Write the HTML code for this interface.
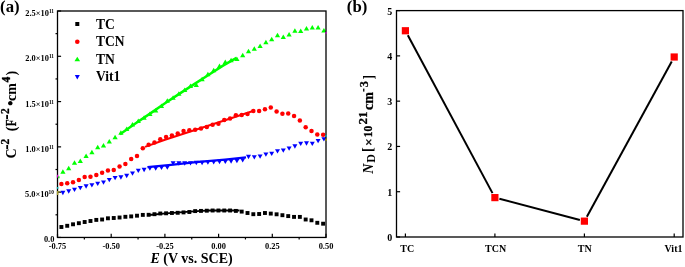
<!DOCTYPE html><html><head><meta charset="utf-8"><style>
html,body{margin:0;padding:0;background:#fff;}
body{width:685px;height:267px;overflow:hidden;position:relative;}
svg{position:absolute;left:0;top:0;will-change:transform;}
text{font-family:"Liberation Serif", serif;font-weight:bold;fill:#000;}
</style></head><body>
<svg width="685" height="267" viewBox="0 0 685 267">
<defs><clipPath id="ca"><rect x="57.50" y="11.00" width="268.50" height="226.45"/></clipPath></defs>
<g clip-path="url(#ca)">
<polyline points="120.00,134.30 135.00,123.80 150.00,113.60 165.00,103.30 180.00,93.40 195.00,83.60 210.00,74.00 223.00,65.60 236.50,57.80" fill="none" stroke="#00ff00" stroke-width="2.5"/>
<polyline points="145.00,146.90 165.00,139.70 225.00,120.20 253.00,111.00" fill="none" stroke="#ff0000" stroke-width="2.0"/>
<polyline points="147.50,167.20 171.00,164.80 196.00,162.10 225.00,159.60 246.00,157.40" fill="none" stroke="#0000ff" stroke-width="2.2"/>
<polyline points="149.00,215.00 166.00,213.40 183.00,212.20 201.00,210.90 210.00,210.50 239.50,210.50" fill="none" stroke="#000000" stroke-width="1.8"/>
<rect x="59.45" y="225.05" width="3.90" height="3.90" fill="#000000"/>
<rect x="65.27" y="223.85" width="3.90" height="3.90" fill="#000000"/>
<rect x="71.08" y="222.35" width="3.90" height="3.90" fill="#000000"/>
<rect x="76.90" y="221.25" width="3.90" height="3.90" fill="#000000"/>
<rect x="82.71" y="220.05" width="3.90" height="3.90" fill="#000000"/>
<rect x="88.53" y="219.05" width="3.90" height="3.90" fill="#000000"/>
<rect x="94.35" y="217.95" width="3.90" height="3.90" fill="#000000"/>
<rect x="100.16" y="217.55" width="3.90" height="3.90" fill="#000000"/>
<rect x="105.98" y="216.35" width="3.90" height="3.90" fill="#000000"/>
<rect x="111.79" y="216.05" width="3.90" height="3.90" fill="#000000"/>
<rect x="117.61" y="215.55" width="3.90" height="3.90" fill="#000000"/>
<rect x="123.43" y="214.85" width="3.90" height="3.90" fill="#000000"/>
<rect x="129.24" y="214.45" width="3.90" height="3.90" fill="#000000"/>
<rect x="135.06" y="213.75" width="3.90" height="3.90" fill="#000000"/>
<rect x="140.87" y="212.95" width="3.90" height="3.90" fill="#000000"/>
<rect x="146.69" y="212.85" width="3.90" height="3.90" fill="#000000"/>
<rect x="152.51" y="212.25" width="3.90" height="3.90" fill="#000000"/>
<rect x="158.32" y="211.55" width="3.90" height="3.90" fill="#000000"/>
<rect x="164.14" y="211.35" width="3.90" height="3.90" fill="#000000"/>
<rect x="169.95" y="211.05" width="3.90" height="3.90" fill="#000000"/>
<rect x="175.77" y="210.85" width="3.90" height="3.90" fill="#000000"/>
<rect x="181.59" y="210.45" width="3.90" height="3.90" fill="#000000"/>
<rect x="187.40" y="210.05" width="3.90" height="3.90" fill="#000000"/>
<rect x="193.22" y="209.15" width="3.90" height="3.90" fill="#000000"/>
<rect x="199.03" y="208.95" width="3.90" height="3.90" fill="#000000"/>
<rect x="204.85" y="208.75" width="3.90" height="3.90" fill="#000000"/>
<rect x="210.67" y="208.55" width="3.90" height="3.90" fill="#000000"/>
<rect x="216.48" y="208.55" width="3.90" height="3.90" fill="#000000"/>
<rect x="222.30" y="208.55" width="3.90" height="3.90" fill="#000000"/>
<rect x="228.11" y="208.55" width="3.90" height="3.90" fill="#000000"/>
<rect x="233.93" y="208.95" width="3.90" height="3.90" fill="#000000"/>
<rect x="239.75" y="209.65" width="3.90" height="3.90" fill="#000000"/>
<rect x="245.56" y="211.05" width="3.90" height="3.90" fill="#000000"/>
<rect x="251.38" y="212.25" width="3.90" height="3.90" fill="#000000"/>
<rect x="257.19" y="212.05" width="3.90" height="3.90" fill="#000000"/>
<rect x="263.01" y="211.05" width="3.90" height="3.90" fill="#000000"/>
<rect x="268.83" y="211.65" width="3.90" height="3.90" fill="#000000"/>
<rect x="274.64" y="212.35" width="3.90" height="3.90" fill="#000000"/>
<rect x="280.46" y="213.25" width="3.90" height="3.90" fill="#000000"/>
<rect x="286.27" y="214.15" width="3.90" height="3.90" fill="#000000"/>
<rect x="292.09" y="214.95" width="3.90" height="3.90" fill="#000000"/>
<rect x="297.91" y="214.95" width="3.90" height="3.90" fill="#000000"/>
<rect x="303.72" y="217.55" width="3.90" height="3.90" fill="#000000"/>
<rect x="309.54" y="218.35" width="3.90" height="3.90" fill="#000000"/>
<rect x="315.35" y="220.85" width="3.90" height="3.90" fill="#000000"/>
<rect x="321.17" y="221.75" width="3.90" height="3.90" fill="#000000"/>
<polygon points="60.40,190.85 65.40,190.85 62.90,195.15" fill="#0000ff"/>
<polygon points="66.20,189.35 71.20,189.35 68.70,193.65" fill="#0000ff"/>
<polygon points="72.00,187.65 77.00,187.65 74.50,191.95" fill="#0000ff"/>
<polygon points="77.80,185.95 82.80,185.95 80.30,190.25" fill="#0000ff"/>
<polygon points="83.60,184.35 88.60,184.35 86.10,188.65" fill="#0000ff"/>
<polygon points="89.40,183.15 94.40,183.15 91.90,187.45" fill="#0000ff"/>
<polygon points="95.20,181.65 100.20,181.65 97.70,185.95" fill="#0000ff"/>
<polygon points="101.00,180.55 106.00,180.55 103.50,184.85" fill="#0000ff"/>
<polygon points="106.80,178.05 111.80,178.05 109.30,182.35" fill="#0000ff"/>
<polygon points="112.60,176.05 117.60,176.05 115.10,180.35" fill="#0000ff"/>
<polygon points="118.40,175.35 123.40,175.35 120.90,179.65" fill="#0000ff"/>
<polygon points="124.20,173.85 129.20,173.85 126.70,178.15" fill="#0000ff"/>
<polygon points="130.00,171.55 135.00,171.55 132.50,175.85" fill="#0000ff"/>
<polygon points="135.80,168.75 140.80,168.75 138.30,173.05" fill="#0000ff"/>
<polygon points="141.60,167.85 146.60,167.85 144.10,172.15" fill="#0000ff"/>
<polygon points="147.40,166.45 152.40,166.45 149.90,170.75" fill="#0000ff"/>
<polygon points="153.20,166.45 158.20,166.45 155.70,170.75" fill="#0000ff"/>
<polygon points="159.00,165.65 164.00,165.65 161.50,169.95" fill="#0000ff"/>
<polygon points="164.80,165.45 169.80,165.45 167.30,169.75" fill="#0000ff"/>
<polygon points="170.60,161.15 175.60,161.15 173.10,165.45" fill="#0000ff"/>
<polygon points="176.40,161.35 181.40,161.35 178.90,165.65" fill="#0000ff"/>
<polygon points="182.20,161.35 187.20,161.35 184.70,165.65" fill="#0000ff"/>
<polygon points="188.00,161.25 193.00,161.25 190.50,165.55" fill="#0000ff"/>
<polygon points="193.80,160.85 198.80,160.85 196.30,165.15" fill="#0000ff"/>
<polygon points="199.60,160.85 204.60,160.85 202.10,165.15" fill="#0000ff"/>
<polygon points="205.40,160.45 210.40,160.45 207.90,164.75" fill="#0000ff"/>
<polygon points="211.20,160.15 216.20,160.15 213.70,164.45" fill="#0000ff"/>
<polygon points="217.00,159.85 222.00,159.85 219.50,164.15" fill="#0000ff"/>
<polygon points="222.80,159.65 227.80,159.65 225.30,163.95" fill="#0000ff"/>
<polygon points="228.60,159.35 233.60,159.35 231.10,163.65" fill="#0000ff"/>
<polygon points="234.40,159.05 239.40,159.05 236.90,163.35" fill="#0000ff"/>
<polygon points="240.20,158.15 245.20,158.15 242.70,162.45" fill="#0000ff"/>
<polygon points="246.00,154.85 251.00,154.85 248.50,159.15" fill="#0000ff"/>
<polygon points="251.80,155.25 256.80,155.25 254.30,159.55" fill="#0000ff"/>
<polygon points="257.60,154.45 262.60,154.45 260.10,158.75" fill="#0000ff"/>
<polygon points="263.40,152.55 268.40,152.55 265.90,156.85" fill="#0000ff"/>
<polygon points="269.20,151.65 274.20,151.65 271.70,155.95" fill="#0000ff"/>
<polygon points="275.00,149.25 280.00,149.25 277.50,153.55" fill="#0000ff"/>
<polygon points="280.80,148.55 285.80,148.55 283.30,152.85" fill="#0000ff"/>
<polygon points="286.60,146.55 291.60,146.55 289.10,150.85" fill="#0000ff"/>
<polygon points="292.40,144.35 297.40,144.35 294.90,148.65" fill="#0000ff"/>
<polygon points="298.20,141.75 303.20,141.75 300.70,146.05" fill="#0000ff"/>
<polygon points="304.00,141.35 309.00,141.35 306.50,145.65" fill="#0000ff"/>
<polygon points="309.80,141.75 314.80,141.75 312.30,146.05" fill="#0000ff"/>
<polygon points="315.60,139.05 320.60,139.05 318.10,143.35" fill="#0000ff"/>
<polygon points="321.40,137.25 326.40,137.25 323.90,141.55" fill="#0000ff"/>
<circle cx="61.40" cy="184.00" r="2.25" fill="#ff0000"/>
<circle cx="67.22" cy="183.20" r="2.25" fill="#ff0000"/>
<circle cx="73.03" cy="182.20" r="2.25" fill="#ff0000"/>
<circle cx="78.85" cy="180.00" r="2.25" fill="#ff0000"/>
<circle cx="84.66" cy="176.90" r="2.25" fill="#ff0000"/>
<circle cx="90.48" cy="176.70" r="2.25" fill="#ff0000"/>
<circle cx="96.30" cy="175.10" r="2.25" fill="#ff0000"/>
<circle cx="102.11" cy="172.70" r="2.25" fill="#ff0000"/>
<circle cx="107.93" cy="170.60" r="2.25" fill="#ff0000"/>
<circle cx="113.74" cy="169.90" r="2.25" fill="#ff0000"/>
<circle cx="119.56" cy="166.50" r="2.25" fill="#ff0000"/>
<circle cx="125.38" cy="163.90" r="2.25" fill="#ff0000"/>
<circle cx="131.19" cy="159.00" r="2.25" fill="#ff0000"/>
<circle cx="137.01" cy="156.10" r="2.25" fill="#ff0000"/>
<circle cx="142.82" cy="148.30" r="2.25" fill="#ff0000"/>
<circle cx="148.64" cy="144.70" r="2.25" fill="#ff0000"/>
<circle cx="154.46" cy="142.50" r="2.25" fill="#ff0000"/>
<circle cx="160.27" cy="139.20" r="2.25" fill="#ff0000"/>
<circle cx="166.09" cy="137.00" r="2.25" fill="#ff0000"/>
<circle cx="171.90" cy="135.60" r="2.25" fill="#ff0000"/>
<circle cx="177.72" cy="133.50" r="2.25" fill="#ff0000"/>
<circle cx="183.54" cy="131.00" r="2.25" fill="#ff0000"/>
<circle cx="189.35" cy="130.20" r="2.25" fill="#ff0000"/>
<circle cx="195.17" cy="129.80" r="2.25" fill="#ff0000"/>
<circle cx="200.98" cy="128.50" r="2.25" fill="#ff0000"/>
<circle cx="206.80" cy="127.10" r="2.25" fill="#ff0000"/>
<circle cx="212.62" cy="124.80" r="2.25" fill="#ff0000"/>
<circle cx="218.43" cy="123.80" r="2.25" fill="#ff0000"/>
<circle cx="224.25" cy="120.00" r="2.25" fill="#ff0000"/>
<circle cx="230.06" cy="118.60" r="2.25" fill="#ff0000"/>
<circle cx="235.88" cy="115.20" r="2.25" fill="#ff0000"/>
<circle cx="241.70" cy="114.90" r="2.25" fill="#ff0000"/>
<circle cx="247.51" cy="113.90" r="2.25" fill="#ff0000"/>
<circle cx="253.33" cy="111.00" r="2.25" fill="#ff0000"/>
<circle cx="259.14" cy="111.00" r="2.25" fill="#ff0000"/>
<circle cx="264.96" cy="109.30" r="2.25" fill="#ff0000"/>
<circle cx="270.78" cy="107.60" r="2.25" fill="#ff0000"/>
<circle cx="276.59" cy="111.40" r="2.25" fill="#ff0000"/>
<circle cx="282.41" cy="113.80" r="2.25" fill="#ff0000"/>
<circle cx="288.22" cy="113.50" r="2.25" fill="#ff0000"/>
<circle cx="294.04" cy="116.00" r="2.25" fill="#ff0000"/>
<circle cx="299.86" cy="120.60" r="2.25" fill="#ff0000"/>
<circle cx="305.67" cy="127.20" r="2.25" fill="#ff0000"/>
<circle cx="311.49" cy="131.00" r="2.25" fill="#ff0000"/>
<circle cx="317.30" cy="134.40" r="2.25" fill="#ff0000"/>
<circle cx="323.12" cy="134.70" r="2.25" fill="#ff0000"/>
<polygon points="62.90,169.35 65.50,173.85 60.30,173.85" fill="#00ff00"/>
<polygon points="68.70,165.65 71.30,170.15 66.10,170.15" fill="#00ff00"/>
<polygon points="74.50,160.15 77.10,164.65 71.90,164.65" fill="#00ff00"/>
<polygon points="80.30,158.45 82.90,162.95 77.70,162.95" fill="#00ff00"/>
<polygon points="86.10,153.55 88.70,158.05 83.50,158.05" fill="#00ff00"/>
<polygon points="91.90,149.65 94.50,154.15 89.30,154.15" fill="#00ff00"/>
<polygon points="97.70,144.65 100.30,149.15 95.10,149.15" fill="#00ff00"/>
<polygon points="103.50,142.95 106.10,147.45 100.90,147.45" fill="#00ff00"/>
<polygon points="109.30,139.05 111.90,143.55 106.70,143.55" fill="#00ff00"/>
<polygon points="115.10,134.65 117.70,139.15 112.50,139.15" fill="#00ff00"/>
<polygon points="120.90,130.35 123.50,134.85 118.30,134.85" fill="#00ff00"/>
<polygon points="126.70,126.55 129.30,131.05 124.10,131.05" fill="#00ff00"/>
<polygon points="132.50,122.05 135.10,126.55 129.90,126.55" fill="#00ff00"/>
<polygon points="138.30,118.45 140.90,122.95 135.70,122.95" fill="#00ff00"/>
<polygon points="144.10,115.15 146.70,119.65 141.50,119.65" fill="#00ff00"/>
<polygon points="149.90,111.55 152.50,116.05 147.30,116.05" fill="#00ff00"/>
<polygon points="155.70,108.05 158.30,112.55 153.10,112.55" fill="#00ff00"/>
<polygon points="161.50,103.55 164.10,108.05 158.90,108.05" fill="#00ff00"/>
<polygon points="167.30,98.35 169.90,102.85 164.70,102.85" fill="#00ff00"/>
<polygon points="173.10,95.15 175.70,99.65 170.50,99.65" fill="#00ff00"/>
<polygon points="178.90,91.25 181.50,95.75 176.30,95.75" fill="#00ff00"/>
<polygon points="184.70,87.45 187.30,91.95 182.10,91.95" fill="#00ff00"/>
<polygon points="190.50,83.55 193.10,88.05 187.90,88.05" fill="#00ff00"/>
<polygon points="196.30,82.45 198.90,86.95 193.70,86.95" fill="#00ff00"/>
<polygon points="202.10,76.75 204.70,81.25 199.50,81.25" fill="#00ff00"/>
<polygon points="207.90,71.75 210.50,76.25 205.30,76.25" fill="#00ff00"/>
<polygon points="213.70,67.75 216.30,72.25 211.10,72.25" fill="#00ff00"/>
<polygon points="219.50,63.45 222.10,67.95 216.90,67.95" fill="#00ff00"/>
<polygon points="225.30,59.55 227.90,64.05 222.70,64.05" fill="#00ff00"/>
<polygon points="231.10,57.85 233.70,62.35 228.50,62.35" fill="#00ff00"/>
<polygon points="236.90,56.55 239.50,61.05 234.30,61.05" fill="#00ff00"/>
<polygon points="242.70,52.65 245.30,57.15 240.10,57.15" fill="#00ff00"/>
<polygon points="248.50,48.75 251.10,53.25 245.90,53.25" fill="#00ff00"/>
<polygon points="254.30,46.35 256.90,50.85 251.70,50.85" fill="#00ff00"/>
<polygon points="260.10,43.45 262.70,47.95 257.50,47.95" fill="#00ff00"/>
<polygon points="265.90,39.65 268.50,44.15 263.30,44.15" fill="#00ff00"/>
<polygon points="271.70,36.75 274.30,41.25 269.10,41.25" fill="#00ff00"/>
<polygon points="277.50,32.65 280.10,37.15 274.90,37.15" fill="#00ff00"/>
<polygon points="283.30,34.45 285.90,38.95 280.70,38.95" fill="#00ff00"/>
<polygon points="289.10,31.95 291.70,36.45 286.50,36.45" fill="#00ff00"/>
<polygon points="294.90,28.15 297.50,32.65 292.30,32.65" fill="#00ff00"/>
<polygon points="300.70,28.45 303.30,32.95 298.10,32.95" fill="#00ff00"/>
<polygon points="306.50,25.95 309.10,30.45 303.90,30.45" fill="#00ff00"/>
<polygon points="312.30,25.05 314.90,29.55 309.70,29.55" fill="#00ff00"/>
<polygon points="318.10,25.05 320.70,29.55 315.50,29.55" fill="#00ff00"/>
<polygon points="323.90,27.95 326.50,32.45 321.30,32.45" fill="#00ff00"/>
</g>
<rect x="57.50" y="11.00" width="268.50" height="226.45" fill="none" stroke="#000" stroke-width="1.3"/>
<line x1="57.50" y1="237.45" x2="57.50" y2="233.85" stroke="#000" stroke-width="1.2"/>
<line x1="84.35" y1="237.45" x2="84.35" y2="239.45" stroke="#000" stroke-width="1.2"/>
<line x1="111.20" y1="237.45" x2="111.20" y2="233.85" stroke="#000" stroke-width="1.2"/>
<line x1="138.05" y1="237.45" x2="138.05" y2="239.45" stroke="#000" stroke-width="1.2"/>
<line x1="164.90" y1="237.45" x2="164.90" y2="233.85" stroke="#000" stroke-width="1.2"/>
<line x1="191.75" y1="237.45" x2="191.75" y2="239.45" stroke="#000" stroke-width="1.2"/>
<line x1="218.60" y1="237.45" x2="218.60" y2="233.85" stroke="#000" stroke-width="1.2"/>
<line x1="245.45" y1="237.45" x2="245.45" y2="239.45" stroke="#000" stroke-width="1.2"/>
<line x1="272.30" y1="237.45" x2="272.30" y2="233.85" stroke="#000" stroke-width="1.2"/>
<line x1="299.15" y1="237.45" x2="299.15" y2="239.45" stroke="#000" stroke-width="1.2"/>
<line x1="326.00" y1="237.45" x2="326.00" y2="233.85" stroke="#000" stroke-width="1.2"/>
<line x1="57.50" y1="237.45" x2="61.10" y2="237.45" stroke="#000" stroke-width="1.2"/>
<line x1="57.50" y1="214.80" x2="55.50" y2="214.80" stroke="#000" stroke-width="1.2"/>
<line x1="57.50" y1="192.16" x2="61.10" y2="192.16" stroke="#000" stroke-width="1.2"/>
<line x1="57.50" y1="169.51" x2="55.50" y2="169.51" stroke="#000" stroke-width="1.2"/>
<line x1="57.50" y1="146.87" x2="61.10" y2="146.87" stroke="#000" stroke-width="1.2"/>
<line x1="57.50" y1="124.22" x2="55.50" y2="124.22" stroke="#000" stroke-width="1.2"/>
<line x1="57.50" y1="101.58" x2="61.10" y2="101.58" stroke="#000" stroke-width="1.2"/>
<line x1="57.50" y1="78.94" x2="55.50" y2="78.94" stroke="#000" stroke-width="1.2"/>
<line x1="57.50" y1="56.29" x2="61.10" y2="56.29" stroke="#000" stroke-width="1.2"/>
<line x1="57.50" y1="33.64" x2="55.50" y2="33.64" stroke="#000" stroke-width="1.2"/>
<line x1="57.50" y1="11.00" x2="61.10" y2="11.00" stroke="#000" stroke-width="1.2"/>
<rect x="56.90" y="174.80" width="1.40" height="2.80" fill="#d000d0"/>
<rect x="58.20" y="176.30" width="1.30" height="2.00" fill="#00e000"/>
<rect x="56.90" y="187.00" width="1.40" height="1.80" fill="#00b0b0"/>
<rect x="56.90" y="191.00" width="1.50" height="4.00" fill="#a8a030"/>
<rect x="57.80" y="191.40" width="2.20" height="0.90" fill="#8a8430"/>
<rect x="325.40" y="31.90" width="1.40" height="1.80" fill="#d000d0"/>
<rect x="325.40" y="134.90" width="1.40" height="1.80" fill="#00b0b0"/>
<rect x="325.40" y="138.70" width="1.40" height="2.20" fill="#a09a00"/>
<text x="57.50" y="248.60" font-size="8.40" text-anchor="middle">-0.75</text>
<text x="111.20" y="248.60" font-size="8.40" text-anchor="middle">-0.50</text>
<text x="164.90" y="248.60" font-size="8.40" text-anchor="middle">-0.25</text>
<text x="218.60" y="248.60" font-size="8.40" text-anchor="middle">0.00</text>
<text x="272.30" y="248.60" font-size="8.40" text-anchor="middle">0.25</text>
<text x="326.00" y="248.60" font-size="8.40" text-anchor="middle">0.50</text>
<text x="54.4" y="242.05" font-size="8.40" text-anchor="end">0.0</text>
<text x="54.0" y="196.86" font-size="8.40" text-anchor="end">5.0<tspan font-size="8.40">×</tspan>10<tspan font-size="5.4" dy="-3.2">10</tspan></text>
<text x="54.0" y="152.47" font-size="8.40" text-anchor="end">1.0<tspan font-size="8.40">×</tspan>10<tspan font-size="5.4" dy="-3.2">11</tspan></text>
<text x="54.0" y="107.18" font-size="8.40" text-anchor="end">1.5<tspan font-size="8.40">×</tspan>10<tspan font-size="5.4" dy="-3.2">11</tspan></text>
<text x="54.0" y="61.29" font-size="8.40" text-anchor="end">2.0<tspan font-size="8.40">×</tspan>10<tspan font-size="5.4" dy="-3.2">11</tspan></text>
<text x="54.0" y="15.70" font-size="8.40" text-anchor="end">2.5<tspan font-size="8.40">×</tspan>10<tspan font-size="5.4" dy="-3.2">11</tspan></text>
<text x="191.6" y="263.1" font-size="14" text-anchor="middle"><tspan font-style="italic">E</tspan> (V vs. SCE)</text>
<text transform="rotate(-90)" x="-158.42" y="15.90" font-size="14.00" font-weight="bold" font-style="normal">C</text>
<rect x="6.30" y="145.00" width="1.80" height="4.00" fill="#000"/>
<text transform="rotate(-90) scale(0.900,1)" x="-160.67" y="9.30" font-size="12.70" font-weight="bold" font-style="normal" stroke="#000" stroke-width="0.30">2</text>
<text transform="rotate(-90)" x="-131.22" y="15.90" font-size="14.00" font-weight="bold" font-style="normal">(</text>
<text transform="rotate(-90) scale(0.800,1)" x="-157.75" y="15.90" font-size="14.00" font-weight="bold" font-style="normal" stroke="#000" stroke-width="0.30">F</text>
<rect x="6.20" y="114.90" width="1.80" height="4.10" fill="#000"/>
<text transform="rotate(-90) scale(0.900,1)" x="-126.67" y="9.30" font-size="12.70" font-weight="bold" font-style="normal" stroke="#000" stroke-width="0.30">2</text>
<text transform="rotate(-90)" x="-106.07" y="16.40" font-size="16.00" font-weight="bold" font-style="normal">•</text>
<text transform="rotate(-90)" x="-100.90" y="15.90" font-size="14.00" font-weight="bold" font-style="normal">cm</text>
<text transform="rotate(-90) scale(0.900,1)" x="-91.71" y="9.50" font-size="12.70" font-weight="bold" font-style="normal" stroke="#000" stroke-width="0.30">4</text>
<text transform="rotate(-90)" x="-75.40" y="15.90" font-size="14.00" font-weight="bold" font-style="normal">)</text>
<rect x="75.30" y="22.00" width="4.00" height="4.00" fill="#000000"/>
<circle cx="77.30" cy="41.80" r="2.30" fill="#ff0000"/>
<polygon points="77.30,56.70 80.10,61.30 74.50,61.30" fill="#00ff00"/>
<polygon points="74.80,74.90 79.80,74.90 77.30,79.50" fill="#0000ff"/>
<g transform="translate(95.9,28.60) scale(0.955,1)"><text x="0" y="0" font-size="14.2">TC</text></g>
<g transform="translate(95.9,46.10) scale(0.955,1)"><text x="0" y="0" font-size="14.2">TCN</text></g>
<g transform="translate(95.9,63.60) scale(0.955,1)"><text x="0" y="0" font-size="14.2">TN</text></g>
<g transform="translate(95.9,81.00) scale(0.955,1)"><text x="0" y="0" font-size="14.2">Vit1</text></g>
<text x="0.1" y="11.5" font-size="16.8">(a)</text>
<line x1="407.81" y1="35.25" x2="492.49" y2="193.11" stroke="#000" stroke-width="2.0"/>
<line x1="499.40" y1="198.79" x2="579.90" y2="219.97" stroke="#000" stroke-width="2.0"/>
<line x1="586.86" y1="216.65" x2="671.74" y2="61.51" stroke="#000" stroke-width="2.0"/>
<rect x="401.80" y="27.15" width="7.20" height="7.20" fill="#ff0000"/>
<rect x="491.30" y="194.01" width="7.20" height="7.20" fill="#ff0000"/>
<rect x="580.80" y="217.55" width="7.20" height="7.20" fill="#ff0000"/>
<rect x="670.60" y="53.41" width="7.20" height="7.20" fill="#ff0000"/>
<rect x="396.50" y="10.60" width="286.50" height="226.40" fill="none" stroke="#000" stroke-width="1.3"/>
<line x1="405.40" y1="237.00" x2="405.40" y2="233.40" stroke="#000" stroke-width="1.2"/>
<line x1="494.90" y1="237.00" x2="494.90" y2="233.40" stroke="#000" stroke-width="1.2"/>
<line x1="584.40" y1="237.00" x2="584.40" y2="233.40" stroke="#000" stroke-width="1.2"/>
<line x1="674.20" y1="237.00" x2="674.20" y2="233.40" stroke="#000" stroke-width="1.2"/>
<line x1="396.50" y1="237.00" x2="400.10" y2="237.00" stroke="#000" stroke-width="1.2"/>
<text x="392.2" y="241.00" font-size="10" text-anchor="end">0</text>
<line x1="396.50" y1="191.72" x2="400.10" y2="191.72" stroke="#000" stroke-width="1.2"/>
<text x="392.2" y="195.72" font-size="10" text-anchor="end">1</text>
<line x1="396.50" y1="146.44" x2="400.10" y2="146.44" stroke="#000" stroke-width="1.2"/>
<text x="392.2" y="150.44" font-size="10" text-anchor="end">2</text>
<line x1="396.50" y1="101.16" x2="400.10" y2="101.16" stroke="#000" stroke-width="1.2"/>
<text x="392.2" y="105.16" font-size="10" text-anchor="end">3</text>
<line x1="396.50" y1="55.88" x2="400.10" y2="55.88" stroke="#000" stroke-width="1.2"/>
<text x="392.2" y="59.88" font-size="10" text-anchor="end">4</text>
<line x1="396.50" y1="10.60" x2="400.10" y2="10.60" stroke="#000" stroke-width="1.2"/>
<text x="392.2" y="14.60" font-size="10" text-anchor="end">5</text>
<text x="407.30" y="251.5" font-size="10" text-anchor="middle">TC</text>
<text x="495.60" y="251.5" font-size="10" text-anchor="middle">TCN</text>
<text x="584.80" y="251.5" font-size="10" text-anchor="middle">TN</text>
<text x="673.50" y="251.5" font-size="10" text-anchor="middle">Vit1</text>
<text transform="rotate(-90)" x="-173.78" y="372.90" font-size="14.00" font-weight="bold" font-style="italic">N</text>
<text transform="rotate(-90)" x="-162.65" y="375.00" font-size="12.00" font-weight="bold" font-style="normal">D</text>
<text transform="rotate(-90)" x="-151.90" y="372.20" font-size="14.50" font-weight="normal" font-style="normal">[</text>
<text transform="rotate(-90)" x="-146.10" y="373.00" font-size="13.50" font-weight="normal" font-style="normal" stroke="#000" stroke-width="0.30">×</text>
<text transform="rotate(-90) scale(0.930,1)" x="-147.49" y="372.30" font-size="12.20" font-weight="bold" font-style="normal" stroke="#000" stroke-width="0.35">10</text>
<text transform="rotate(-90)" x="-124.40" y="367.30" font-size="13.00" font-weight="bold" font-style="normal" stroke="#000" stroke-width="0.30">21</text>
<text transform="rotate(-90)" x="-109.90" y="372.70" font-size="14.00" font-weight="bold" font-style="normal" stroke="#000" stroke-width="0.25">cm</text>
<rect x="363.10" y="88.60" width="1.30" height="3.00" fill="#000"/>
<text transform="rotate(-90) scale(0.900,1)" x="-97.07" y="367.60" font-size="13.50" font-weight="bold" font-style="normal" stroke="#000" stroke-width="0.30">3</text>
<text transform="rotate(-90)" x="-79.50" y="372.60" font-size="14.00" font-weight="normal" font-style="normal">]</text>
<text x="346.8" y="12.0" font-size="16.8">(b)</text>
</svg></body></html>
